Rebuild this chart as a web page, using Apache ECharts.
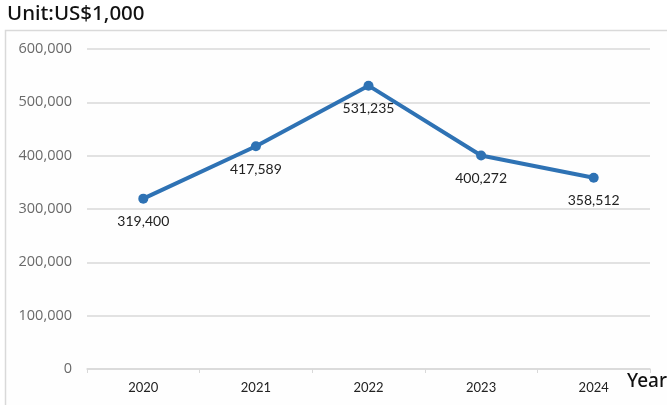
<!DOCTYPE html>
<html><head><meta charset="utf-8">
<script src="https://cdn.jsdelivr.net/npm/echarts@6/dist/echarts.min.js"></script>
<style>html,body{margin:0;padding:0;background:#fff}#c{width:667px;height:405px}</style>
</head><body><div id="c"></div>
<script>
const years = ['2020','2021','2022','2023','2024'];
const values = [319400, 417589, 531235, 400272, 358512];
const yTicks = [0, 100000, 200000, 300000, 400000, 500000, 600000];

const chart = echarts.init(document.getElementById('c'));
chart.setOption({
  animation: false,
  backgroundColor: '#ffffff',
  graphic: [
    {type:'rect', shape:{x:5.5,y:30.5,width:700,height:400}, style:{fill:'#fefefe', stroke:'#d9d9d9', lineWidth:1.5}, z:-10},
    {type:'text', left:7, top:4, style:{text:'Unit:US$1,000', font:'500 20.5px "Noto Sans"', fill:'#111'}},
    {type:'text', left:627, top:372, style:{text:'Year', font:'500 19px "Noto Sans"', fill:'#111'}}
  ],
  grid: {left:87, right:17, top:49, bottom:36},
  xAxis: {
    type:'category', data: years, boundaryGap:true,
    axisLine:{lineStyle:{color:'#d9d9d9', width:1.5}},
    axisTick:{show:true, length:4, lineStyle:{color:'#d9d9d9'}},
    axisLabel:{color:'#222', fontFamily:'Lato', fontSize:13, margin:12}
  },
  yAxis: {
    type:'value', min:yTicks[0], max:yTicks[yTicks.length-1], interval:100000,
    axisLine:{show:false}, axisTick:{show:false},
    splitLine:{lineStyle:{color:'#d9d9d9', width:1.5}},
    axisLabel:{color:'#6a6a6a', fontFamily:'Open Sans', fontSize:14.5, margin:15,
      formatter: v => v.toLocaleString('en-US')}
  },
  series: [{
    type:'line', data: values,
    symbol:'circle', symbolSize:10,
    lineStyle:{color:'#2e72b4', width:4},
    itemStyle:{color:'#2e72b4'},
    label:{show:true, position:'bottom', distance:11, color:'#222', fontFamily:'Lato', fontSize:14,
      formatter: p => p.value.toLocaleString('en-US')}
  }]
});
</script></body></html>
